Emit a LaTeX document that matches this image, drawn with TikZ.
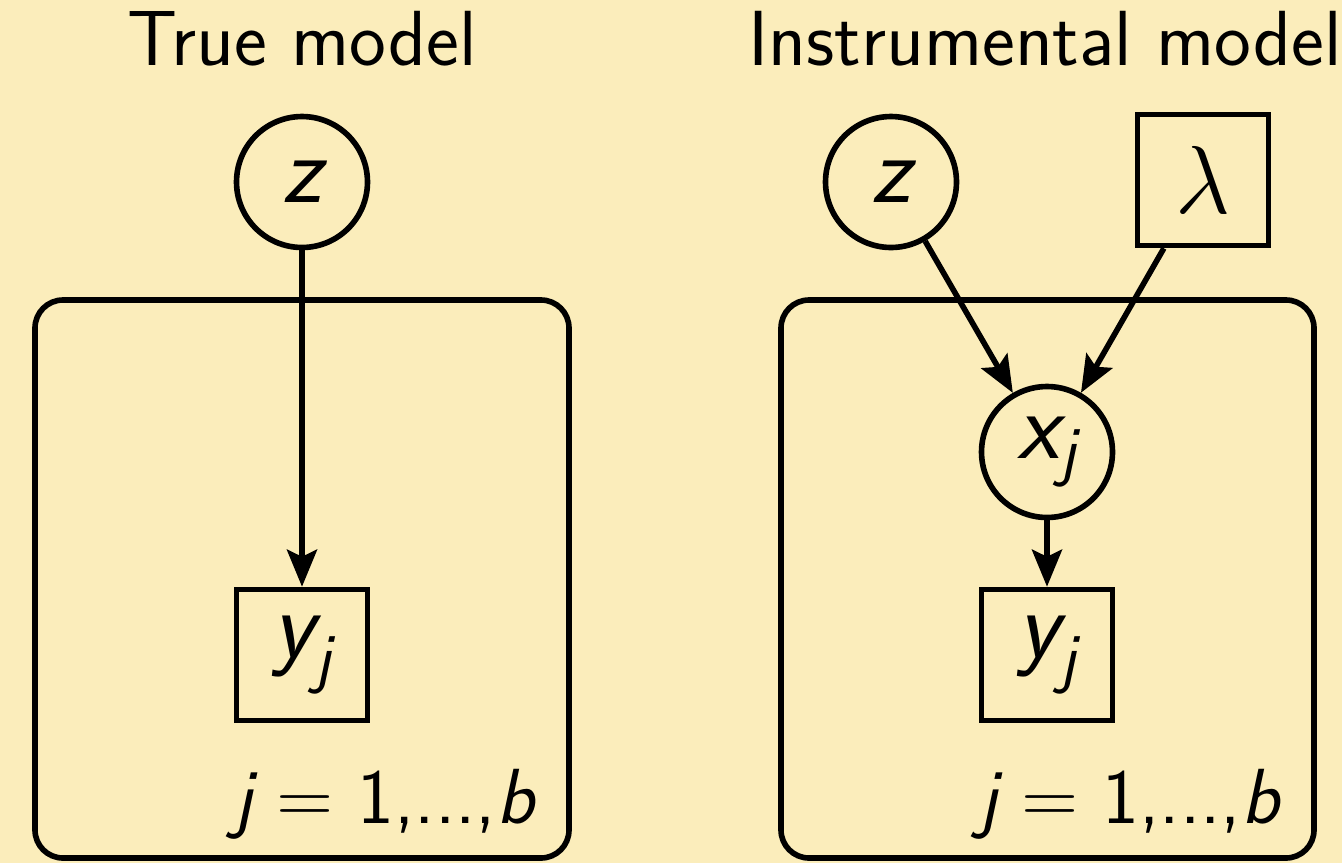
\RequirePackage{fix-cm}
\documentclass[tikz,border=0pt]{standalone}
\usepackage{amsmath}
\usepackage{fontspec}
\usetikzlibrary{arrows.meta}
\definecolor{bgyellow}{RGB}{251,237,187}
\newcommand{\vi}[1]{{\sffamily\itshape #1}}
\tikzset{
  px/.style={x=0.02cm,y=-0.02cm},
  lw/.style={line width=3.2pt},
  varnode/.style={circle,draw,lw,minimum size=2.62cm,inner sep=0pt,font=\fontsize{55}{60}\selectfont},
  obsnode/.style={rectangle,draw,lw,minimum size=2.62cm,inner sep=0pt,font=\fontsize{55}{60}\selectfont},
  plate/.style={draw,lw,rounded corners=0.56cm},
  edge/.style={lw,-{Stealth[length=0.74cm,width=0.6cm,inset=0.14cm]}},
  title/.style={font=\fontsize{44.5}{50}\selectfont\sffamily,anchor=base,inner sep=0pt},
  platelabel/.style={font=\fontsize{44.5}{50}\selectfont\sffamily,anchor=base,inner sep=0pt}
}
\begin{document}
\begin{tikzpicture}[px]
\fill[bgyellow] (0,0) rectangle (1342,863);
\useasboundingbox (0,0) rectangle (1342,863);
% titles
\node[title] (t1) at (302,65) {True model};
\node[title] (t2) at (1045,65) {Instrumental model};
% plates
\draw[plate] (35,300) rectangle (569,858);
\draw[plate] (781,300) rectangle (1314,858);
% left model
\node[varnode] (z1) at (302,182) {\vi{z}};
\node[obsnode] (y1) at (302,655) {$\text{\vi{y}}_{\text{\vi{j}}}$};
\node[platelabel] (l1) at (384,823) {\vi{j}\hspace{0.3em}=\hspace{0.3em}1,...,\vi{b}};
\draw[edge] (z1) -- (y1);
% right model
\node[varnode] (z2) at (891,182) {\vi{z}};
\node[obsnode] (lam) at (1203,180) {$\lambda$};
\node[varnode] (x2) at (1047,452) {$\text{\vi{x}}_{\text{\vi{j}}}$};
\node[obsnode] (y2) at (1047,655) {$\text{\vi{y}}_{\text{\vi{j}}}$};
\node[platelabel] (l2) at (1129,823) {\vi{j}\hspace{0.3em}=\hspace{0.3em}1,...,\vi{b}};
\draw[edge] (z2) -- (x2);
\draw[edge] (lam) -- (x2);
\draw[edge] (x2) -- (y2);
\end{tikzpicture}
\end{document}
